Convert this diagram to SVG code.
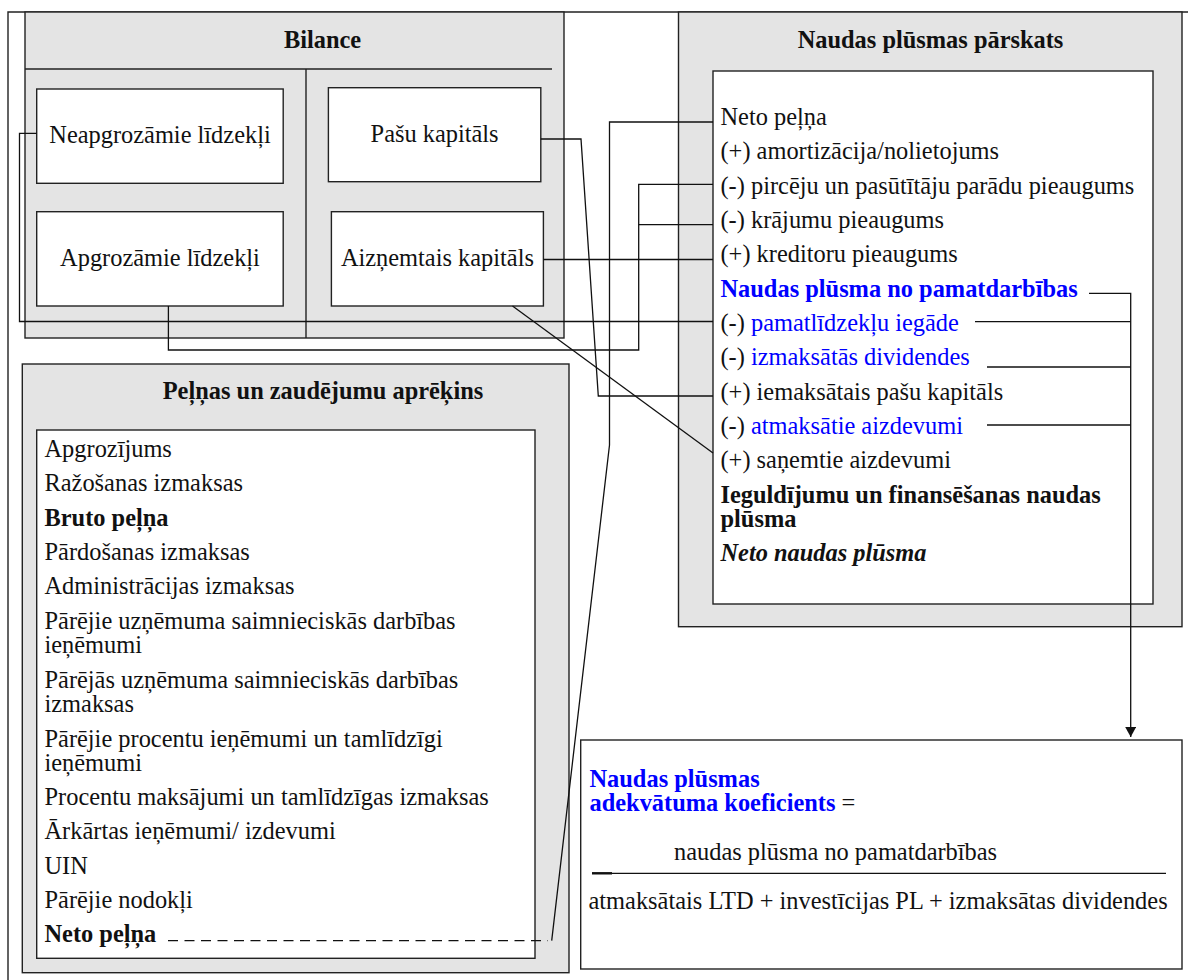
<svg xmlns="http://www.w3.org/2000/svg" width="1188" height="980" viewBox="0 0 1188 980">
  <style>
    text { font-family: "Liberation Serif", "Times New Roman", serif; font-size: 24.4px; fill: #111; }
    .b { font-weight: bold; }
    .bi { font-weight: bold; font-style: italic; }
    .blue { fill: #0000ff; }
    .panel { fill: #e4e4e4; stroke: #222; stroke-width: 1.4; }
    .box { fill: #fff; stroke: #222; stroke-width: 1.4; }
    .rule { fill: none; stroke: #222; stroke-width: 1.4; }
    .link { fill: none; stroke: #111; stroke-width: 1.3; }
    .dash { fill: none; stroke: #111; stroke-width: 1.3; stroke-dasharray: 10 6.5; }
  </style>
  <defs>
    <marker id="arrow" markerWidth="10" markerHeight="11" refX="10" refY="5.5" orient="auto" markerUnits="userSpaceOnUse" viewBox="0 0 10 11">
      <path d="M0,0 L10,5.5 L0,11 Z" fill="#111"/>
    </marker>
  </defs>

  <rect width="1188" height="980" fill="#fff"/>

  <!-- page frame -->
  <path class="rule" d="M8,980 V12 H1188"/>

  <!-- Balance sheet -->
  <g id="bilance">
    <rect class="panel" x="25" y="12" width="539" height="326"/>
    <line class="rule" x1="25" y1="69" x2="552" y2="69"/>
    <line class="rule" x1="306" y1="69" x2="306" y2="338"/>
    <text class="b" x="322.5" y="47.5" text-anchor="middle">Bilance</text>
  </g>
  <g id="neapgrozamie">
    <rect class="box" x="36.7" y="89" width="246.5" height="94.3"/>
    <text x="160" y="142.5" text-anchor="middle">Neapgrozāmie līdzekļi</text>
  </g>
  <g id="pasu-kapitals">
    <rect class="box" x="328.4" y="87.7" width="212.4" height="94"/>
    <text x="434.6" y="142" text-anchor="middle">Pašu kapitāls</text>
  </g>
  <g id="apgrozamie">
    <rect class="box" x="36.7" y="211.7" width="246.5" height="94.3"/>
    <text x="160" y="266" text-anchor="middle">Apgrozāmie līdzekļi</text>
  </g>
  <g id="aiznemtais">
    <rect class="box" x="331.4" y="211.7" width="212" height="94.3"/>
    <text x="437.4" y="266" text-anchor="middle">Aizņemtais kapitāls</text>
  </g>

  <!-- Cash flow statement -->
  <g id="naudas-plusmas-parskats">
    <rect class="panel" x="678.5" y="12" width="503.5" height="614.7"/>
    <rect class="box" x="713" y="71" width="440" height="533"/>
    <text class="b" x="930.5" y="47.5" text-anchor="middle">Naudas plūsmas pārskats</text>
    <text x="720.5" y="125">Neto peļņa</text>
    <text x="720.5" y="159.3">(+) amortizācija/nolietojums</text>
    <text x="720.5" y="193.6">(-) pircēju un pasūtītāju parādu pieaugums</text>
    <text x="720.5" y="228">(-) krājumu pieaugums</text>
    <text x="720.5" y="262.3">(+) kreditoru pieaugums</text>
    <text class="b blue" x="720.5" y="296.6">Naudas plūsma no pamatdarbības</text>
    <text x="720.5" y="331">(-) <tspan class="blue">pamatlīdzekļu iegāde</tspan></text>
    <text x="720.5" y="365.3">(-) <tspan class="blue">izmaksātās dividendes</tspan></text>
    <text x="720.5" y="399.6">(+) iemaksātais pašu kapitāls</text>
    <text x="720.5" y="434">(-) <tspan class="blue">atmaksātie aizdevumi</tspan></text>
    <text x="720.5" y="468.3">(+) saņemtie aizdevumi</text>
    <text class="b" x="720.5" y="502.6">Ieguldījumu un finansēšanas naudas</text>
    <text class="b" x="720.5" y="526.7">plūsma</text>
    <text class="bi" x="720.5" y="560.7">Neto naudas plūsma</text>
  </g>

  <!-- Income statement -->
  <g id="pelnas-un-zaudejumu-aprekins">
    <rect class="panel" x="22.3" y="364" width="546.7" height="608.7"/>
    <rect class="box" x="36.7" y="430" width="498.3" height="528.3"/>
    <text class="b" x="323" y="399" text-anchor="middle">Peļņas un zaudējumu aprēķins</text>
    <text x="44.5" y="457">Apgrozījums</text>
    <text x="44.5" y="491.3">Ražošanas izmaksas</text>
    <text class="b" x="44.5" y="525.6">Bruto peļņa</text>
    <text x="44.5" y="560">Pārdošanas izmaksas</text>
    <text x="44.5" y="594.3">Administrācijas izmaksas</text>
    <text x="44.5" y="628.6">Pārējie uzņēmuma saimnieciskās darbības</text>
    <text x="44.5" y="652.6">ieņēmumi</text>
    <text x="44.5" y="687.5">Pārējās uzņēmuma saimnieciskās darbības</text>
    <text x="44.5" y="711.5">izmaksas</text>
    <text x="44.5" y="746.5">Pārējie procentu ieņēmumi un tamlīdzīgi</text>
    <text x="44.5" y="770.5">ieņēmumi</text>
    <text x="44.5" y="805">Procentu maksājumi un tamlīdzīgas izmaksas</text>
    <text x="44.5" y="839">Ārkārtas ieņēmumi/ izdevumi</text>
    <text x="44.5" y="873.5">UIN</text>
    <text x="44.5" y="908">Pārējie nodokļi</text>
    <text class="b" x="44.5" y="942">Neto peļņa</text>
  </g>

  <!-- Adequacy ratio -->
  <g id="adekvatuma-koeficients">
    <rect class="box" x="580.7" y="740" width="601.3" height="229"/>
    <text class="b blue" x="589.5" y="787">Naudas plūsmas</text>
    <text x="589.5" y="811"><tspan class="b blue">adekvātuma koeficients</tspan> =</text>
    <text x="674" y="860">naudas plūsma no pamatdarbības</text>
    <line x1="592" y1="873.3" x2="1166" y2="873.3" stroke="#111" stroke-width="1.3"/>
    <line x1="592" y1="873.3" x2="612" y2="873.3" stroke="#111" stroke-width="2.4"/>
    <text x="588.5" y="909">atmaksātais LTD + investīcijas PL + izmaksātas dividendes</text>
  </g>

  <!-- Connectors -->
  <g id="connectors">
    <polyline class="link" points="36.7,133.3 19.5,133.3 19.5,321.5 713,321.5"/>
    <polyline class="link" points="168.4,306 168.4,350 638.7,350 638.7,184.3 713,184.3"/>
    <line class="link" x1="638.7" y1="224.7" x2="713" y2="224.7"/>
    <polyline class="link" points="540.8,139 581,139 598.3,396 713,396"/>
    <line class="link" x1="543.4" y1="259.5" x2="713" y2="259.5"/>
    <line class="link" x1="512.5" y1="306" x2="713" y2="453"/>
    <polyline class="link" points="713,122 609.5,122 609.5,445 551.7,940.7"/>
    <line class="dash" x1="168" y1="940.7" x2="548" y2="940.7"/>
    <polyline class="link" points="1089,293.3 1130.7,293.3 1130.7,737" marker-end="url(#arrow)"/>
    <line class="link" x1="975" y1="321.7" x2="1130.7" y2="321.7"/>
    <line class="link" x1="987" y1="367" x2="1130.7" y2="367"/>
    <line class="link" x1="987" y1="425" x2="1130.7" y2="425"/>
  </g>
</svg>
